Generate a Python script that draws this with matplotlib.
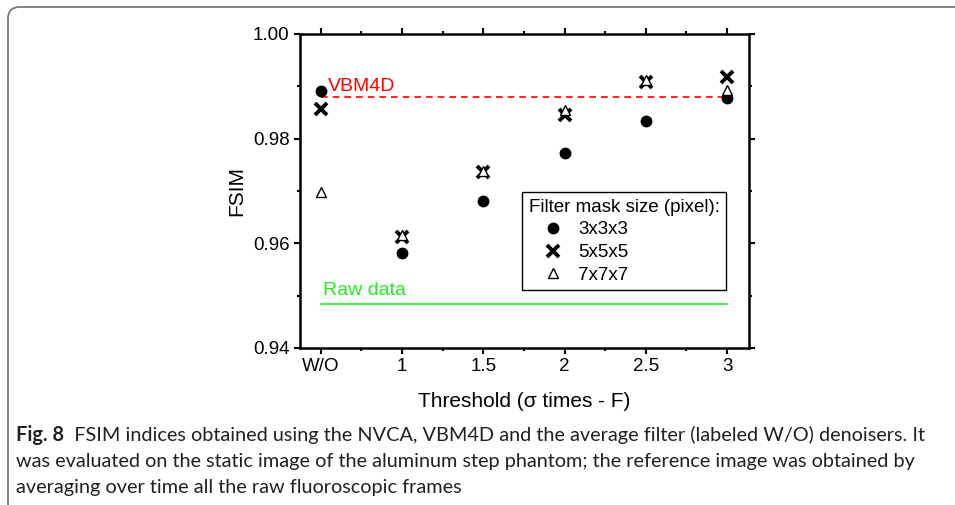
import matplotlib
matplotlib.use("Agg")
import matplotlib.pyplot as plt
from matplotlib.patches import FancyBboxPatch
from matplotlib.lines import Line2D

plt.rcParams['font.family'] = ['Liberation Sans', 'DejaVu Sans']

# data
thresholds = ["W/O", "1", "1.5", "2", "2.5", "3"]
fsim_3x3x3 = [0.9892, 0.9581, 0.9681, 0.9772, 0.9833, 0.9877]
fsim_5x5x5 = [0.9857, 0.9612, 0.9736, 0.9846, 0.9909, 0.9917]
fsim_7x7x7 = [0.9698, 0.9616, 0.9739, 0.9855, 0.9913, 0.9893]
vbm4d = 0.9879
raw_data = 0.9485

caption1 = "FSIM indices obtained using the NVCA, VBM4D and the average filter (labeled W/O) denoisers. It"
caption2 = "was evaluated on the static image of the aluminum step phantom; the reference image was obtained by"
caption3 = "averaging over time all the raw fluoroscopic frames"

x = list(range(len(thresholds)))

fig = plt.figure(figsize=(9.55, 5.05), dpi=100)
ax = fig.add_axes([300/955, 1-348/505, 449/955, 314/505])

# reference lines
ax.plot([x[0], x[-1]], [vbm4d, vbm4d], color="#ff0000", ls=(0, (4, 3)), lw=1.2)
ax.plot([x[0], x[-1]], [raw_data, raw_data], color="#22ee22", lw=1.2)
ax.text(0.09, vbm4d + 0.0004, "VBM4D", color="#ff0000", fontsize=14, va="bottom")
ax.text(0.03, raw_data + 0.0009, "Raw data", color="#22ee22", fontsize=14, va="bottom")

# points
ax.plot(x, fsim_3x3x3, "o", color="black", ms=7.5, zorder=3)
ax.plot(x, fsim_5x5x5, "x", color="black", ms=8, mew=2.8, zorder=3)
ax.plot(x, fsim_7x7x7, "^", mfc="white", mec="black", ms=7, mew=1.0, zorder=4)

ax.set_xlim(-0.255, 5.27)
ax.set_ylim(0.94, 1.00)
ax.set_xticks(x)
ax.set_xticklabels(thresholds)
ax.set_xticks([i + 0.5 for i in x[:-1]], minor=True)
ax.set_yticks([0.94, 0.96, 0.98, 1.00])
ax.set_yticklabels(["0.94", "0.96", "0.98", "1.00"])
ax.set_yticks([0.95, 0.97, 0.99], minor=True)
ax.tick_params(which="both", direction="out", top=True, right=True, width=1.5, labelsize=13.5)
ax.tick_params(which="major", length=4)
ax.tick_params(which="minor", length=2)
for s in ax.spines.values():
    s.set_linewidth(1.8)

ax.set_xlabel("Threshold (σ times - F)", fontsize=15, labelpad=12)
ax.set_ylabel("FSIM", fontsize=15, labelpad=5)

handles = [
    Line2D([], [], ls="none", marker="o", color="black", ms=7.5),
    Line2D([], [], ls="none", marker="x", color="black", ms=8, mew=2.8),
    Line2D([], [], ls="none", marker="^", mfc="white", mec="black", ms=7, mew=1.0),
]
leg = ax.legend(handles, ["3x3x3", "5x5x5", "7x7x7"], title="Filter mask size (pixel):",
                loc="upper left", bbox_to_anchor=((522-300)/449, (348-192)/314),
                borderaxespad=0, fontsize=13.5, title_fontsize=13.5, fancybox=False,
                edgecolor="black", framealpha=1, handlelength=2.6, handletextpad=0.05,
                borderpad=0.35, labelspacing=0.3, alignment="left")
leg.get_frame().set_linewidth(1.0)

# frame around the figure panel
frame = FancyBboxPatch((8/955, -10/505), 960/955, (505-7+10)/505,
                       boxstyle="round,pad=0,rounding_size=0.012", transform=fig.transFigure,
                       fill=False, edgecolor="#777777", lw=1.3, mutation_aspect=955/505)
fig.patches.append(frame)

# caption
cap_font = ['Lato', 'DejaVu Sans']
cap_size = 14.3
t = fig.text(16/955, 1-435/505, "Fig. 8", fontsize=cap_size, fontweight="bold", family=cap_font,
             color="#231f20", va="center")
ax.annotate("  " + caption1, xy=(1, 0.5), xycoords=t, va="center", ha="left",
            fontsize=cap_size, family=cap_font, color="#231f20", annotation_clip=False)
fig.text(16/955, 1-461/505, caption2, fontsize=cap_size, family=cap_font, color="#231f20", va="center")
fig.text(16/955, 1-487/505, caption3, fontsize=cap_size, family=cap_font, color="#231f20", va="center")

fig.savefig("out.png", dpi=100)
